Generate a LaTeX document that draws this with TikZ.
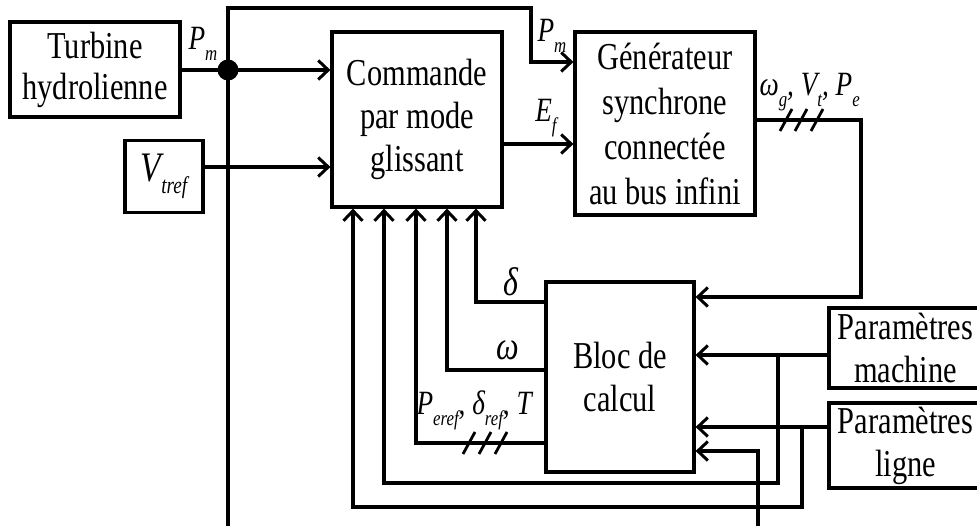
\documentclass[tikz,border=0pt]{standalone}
\usepackage{fontspec}
\setmainfont{Liberation Serif}[FakeStretch=0.8]
\usetikzlibrary{arrows.meta}
\newcommand\lsub[1]{\raisebox{-0.32em}{\fontsize{21}{21}\selectfont\itshape #1}}
\begin{document}
\begin{tikzpicture}[x=1pt,y=-1pt,line width=3.2pt,
  box/.style={draw,line width=3.2pt,align=center,inner sep=0pt,font=\fontsize{38}{43}\selectfont},
  arr/.style={-{Straight Barb[length=10pt,width=19pt,line width=3pt]}},
  lbl/.style={inner sep=0pt,font=\fontsize{34}{34}\selectfont\itshape}]
\useasboundingbox (0,0) rectangle (977,526);
% blocks
\node[box,minimum width=170pt,minimum height=95pt] (turb) at (95,69.5) {Turbine\\[-2pt]hydrolienne};
\node[box,minimum width=78pt,minimum height=72pt] (vtref) at (164,176.5)
  {\fontsize{42}{42}\selectfont\itshape V\raisebox{-0.3em}{\fontsize{24}{24}\selectfont\itshape tref}};
\node[box,minimum width=170pt,minimum height=175pt] (cmd) at (417,119.5) {Commande\\par mode\\glissant};
\node[box,minimum width=180pt,minimum height=183pt,font=\fontsize{38}{45}\selectfont] (gen) at (665,123.5)
  {Générateur\\synchrone\\connectée\\au bus infini};
\node[box,minimum width=148pt,minimum height=190pt] (bloc) at (620,377) {Bloc de\\calcul};
\node[box,minimum width=153pt,minimum height=80pt] (pmach) at (905.5,348) {Paramètres\\machine};
\node[box,minimum width=153pt,minimum height=85pt] (pligne) at (905.5,445.5) {Paramètres\\ligne};
% junction
\coordinate (j) at (228,70);
\fill (j) circle (10.5pt);
% connectors
\draw[arr] (turb.east |- j) -- (cmd.west |- j);
\draw[arr] ([yshift=9.5pt]vtref.east) -- (cmd.west |- 0,167);
\draw[arr] (j) |- (531,8) |- (gen.west |- 0,62);
\draw[arr] (cmd.east |- 0,144) -- (gen.west |- 0,144);
\draw[arr] (gen.east |- 0,120) -- (861,120) |- (bloc.east |- 0,297);
\draw[arr] (bloc.west |- 0,302) -| (cmd.south -| 476,0);
\draw[arr] (bloc.west |- 0,370) -| (cmd.south -| 447,0);
\draw[arr] (bloc.west |- 0,443) -| (cmd.south -| 416,0);
\draw[arr] (pmach.west |- 0,355) -- (bloc.east |- 0,355);
\draw[arr] (778,355) |- (384,483) -- (cmd.south -| 384,0);
\draw[arr] (pligne.west |- 0,427) -- (bloc.east |- 0,427);
\draw[arr] (802,427) |- (353,507) -- (cmd.south -| 353,0);
\draw[arr] (j) |- (758,535) |- (bloc.east |- 0,451);
% bus marks
\foreach \x in {786,801,817} \draw[line width=2.8pt] (\x-6,131) -- (\x+6,109);
\foreach \x in {469,485,501} \draw[line width=2.8pt] (\x-6,454) -- (\x+6,432);
% labels
\node[lbl] (lpm1) at (203,44) {P\lsub{m}};
\node[lbl] (lpm2) at (552,36) {P\lsub{m}};
\node[lbl] (lef) at (546,118) {E\lsub{f}};
\node[lbl,anchor=west] (lgen) at (758,92) {ω\lsub{g}, V\lsub{t}, P\lsub{e}};
\node[lbl,font=\fontsize{40}{40}\selectfont\itshape] (ldel) at (511,282) {δ};
\node[lbl,font=\fontsize{40}{40}\selectfont\itshape] (lom) at (508,350) {ω};
\node[lbl,anchor=west] (lref) at (415,410) {P\lsub{eref}, δ\lsub{ref}, T};
\end{tikzpicture}
\end{document}
